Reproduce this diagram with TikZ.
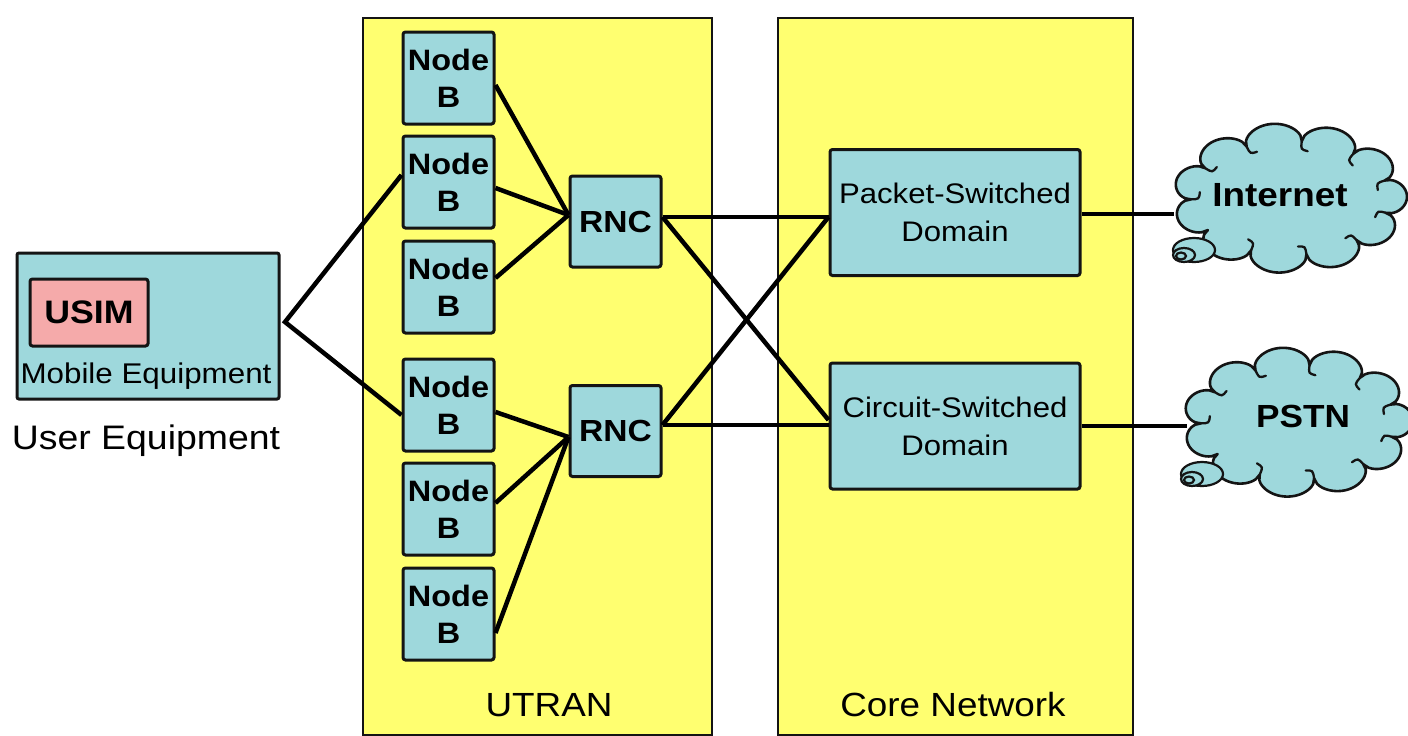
\documentclass[tikz,border=0pt]{standalone}
\usepackage{fontspec}
\setmainfont[FakeStretch=1.1]{Liberation Sans}
\usetikzlibrary{shapes.geometric,backgrounds}
\definecolor{boxcyan}{RGB}{158,216,220}
\definecolor{bgyellow}{RGB}{255,255,112}
\definecolor{simpink}{RGB}{245,170,170}
\definecolor{edgec}{RGB}{20,20,20}
\newcommand\mycloud[5]{%
\begin{scope}[shift={(#1,#2)}]
\draw[cloudline] plot[domain=15:375, samples=331, variable=\t]
  ({(#3+#5*sqrt(abs(sin(5.5*(\t-15)))))*cos(\t)}, {(#4+#5*sqrt(abs(sin(5.5*(\t-15)))))*sin(\t)}) -- cycle;
\foreach \k in {0,1,2,3,5,6,7,8,9,10}{
  \pgfmathsetmacro\cta{15+\k*360/11}
  \pgfmathsetmacro\px{#3*cos(\cta)}
  \pgfmathsetmacro\py{#4*sin(\cta)}
  \pgfmathsetmacro\nx{-cos(\cta)}
  \pgfmathsetmacro\ny{-sin(\cta)}
  \draw[curl] (\px,\py) .. controls ({\px+8*\nx},{\py+8*\ny}) .. ({\px+9*\nx+7*\ny},{\py+9*\ny-7*\nx});
}
\end{scope}}
\begin{document}
\begin{tikzpicture}[x=1pt,y=-1pt,
 box/.style={draw=edgec, line width=3pt, fill=boxcyan, rounded corners=2.5pt, inner sep=0pt, align=center},
 nb/.style={box, minimum width=91pt, minimum height=92pt, font=\bfseries\fontsize{29.5}{37}\selectfont},
 rnc/.style={box, minimum width=91pt, minimum height=91pt, font=\bfseries\fontsize{30.5}{35}\selectfont},
 dom/.style={box, minimum width=250pt, minimum height=126pt, font=\fontsize{28.3}{38}\selectfont},
 area/.style={draw=edgec, line width=2.4pt, fill=bgyellow, inner sep=0pt},
 link/.style={line width=4.5pt, draw=black},
 cloudline/.style={draw=edgec, line width=2.6pt, fill=boxcyan, line join=round},
 cloudnode/.style={ellipse, inner sep=0pt},
 bubble/.style={draw=edgec, line width=2.2pt, fill=boxcyan},
 curl/.style={draw=edgec, line width=2.3pt, line cap=round},
 lbl/.style={font=\fontsize{33.5}{40}\selectfont, inner sep=0pt},
]
\useasboundingbox (0,0) rectangle (1408,736);
% areas
\node[area, minimum width=349pt, minimum height=717pt] (utran) at (537.5,376.5) {};
\node[area, minimum width=355pt, minimum height=717pt] (core) at (955.5,376.5) {};
\node[lbl] (utranlbl) at (549,705) {UTRAN};
\node[lbl] (corelbl) at (953,705) {Core Network};
% user equipment
\node[box, rounded corners=2pt, minimum width=262pt, minimum height=146pt] (ue) at (148,326) {};
\node[box, fill=simpink, minimum width=118pt, minimum height=67pt, font=\bfseries\fontsize{32.5}{36}\selectfont] (usim) at (89,312.5) {USIM};
\node[inner sep=0pt, font=\fontsize{28.5}{34}\selectfont] (me) at (146,376) {Mobile Equipment};
\node[inner sep=0pt, font=\fontsize{34}{40}\selectfont] (uelbl) at (146,441) {User Equipment};
% node Bs
\node[nb] (b1) at (448.5,78) {Node\\B};
\node[nb] (b2) at (448.5,182) {Node\\B};
\node[nb] (b3) at (448.5,287) {Node\\B};
\node[nb] (b4) at (448.5,405) {Node\\B};
\node[nb] (b5) at (448.5,509) {Node\\B};
\node[nb] (b6) at (448.5,614) {Node\\B};
% RNCs
\node[rnc] (r1) at (615.5,221.5) {RNC};
\node[rnc] (r2) at (615.5,431) {RNC};
% domains
\node[dom] (ps) at (955,212.5) {Packet-Switched\\Domain};
\node[dom] (cs) at (955,426) {Circuit-Switched\\Domain};
% clouds
\node[cloudnode, minimum width=232pt, minimum height=140pt] (inet) at (1290,198) {};
\node[inner sep=0pt, font=\bfseries\fontsize{33.5}{36}\selectfont] (inetlbl) at (1280,195) {Internet};
\node[cloudnode, minimum width=222pt, minimum height=140pt] (pstn) at (1298,422) {};
\node[inner sep=0pt, font=\bfseries\fontsize{32}{36}\selectfont] (pstnlbl) at (1303,416) {PSTN};
\begin{pgfonlayer}{background}
\fill[white] (0,0) rectangle (1408,736);
\mycloud{1290}{198}{99}{57}{18}
\mycloud{1298}{422}{97}{57}{18}
\end{pgfonlayer}
\draw[bubble] (1194,250) ellipse [x radius=21, y radius=12];
\draw[bubble] (1184,255) ellipse [x radius=11, y radius=7];
\draw[bubble] (1181,256) ellipse [x radius=5, y radius=3.5];
\draw[bubble] (1202,474) ellipse [x radius=21, y radius=12];
\draw[bubble] (1192,479) ellipse [x radius=11, y radius=7];
\draw[bubble] (1189,480) ellipse [x radius=5, y radius=3.5];
% links
\coordinate (apex) at (285,322);
\draw[link] ([yshift=7pt]b2.west) -- (apex) -- ([yshift=-10pt]b4.west);
\draw[link] ([yshift=-7pt]b1.east) -- ([yshift=6.5pt]r1.west);
\draw[link] ([yshift=-6pt]b2.east) -- ([yshift=6.5pt]r1.west);
\draw[link] ([yshift=9pt]b3.east) -- ([yshift=6.5pt]r1.west);
\draw[link] ([yshift=-7pt]b4.east) -- ([yshift=-6pt]r2.west);
\draw[link] ([yshift=6pt]b5.east) -- ([yshift=-6pt]r2.west);
\draw[link] ([yshift=-19pt]b6.east) -- ([yshift=-6pt]r2.west);
\draw[link] ([yshift=4.5pt]r1.east) -- ([yshift=-4.5pt]ps.west);
\draw[link] ([yshift=4.5pt]r1.east) -- ([yshift=6pt]cs.west);
\draw[link] ([yshift=6pt]r2.east) -- ([yshift=-4.5pt]ps.west);
\draw[link] ([yshift=6pt]r2.east) -- ([yshift=1pt]cs.west);
\draw[link] ([yshift=-1.5pt]ps.east) -- ([yshift=-1.5pt]ps.east -| inet.west);
\draw[link] (cs.east) -- (cs.east -| pstn.west);
\end{tikzpicture}
\end{document}
